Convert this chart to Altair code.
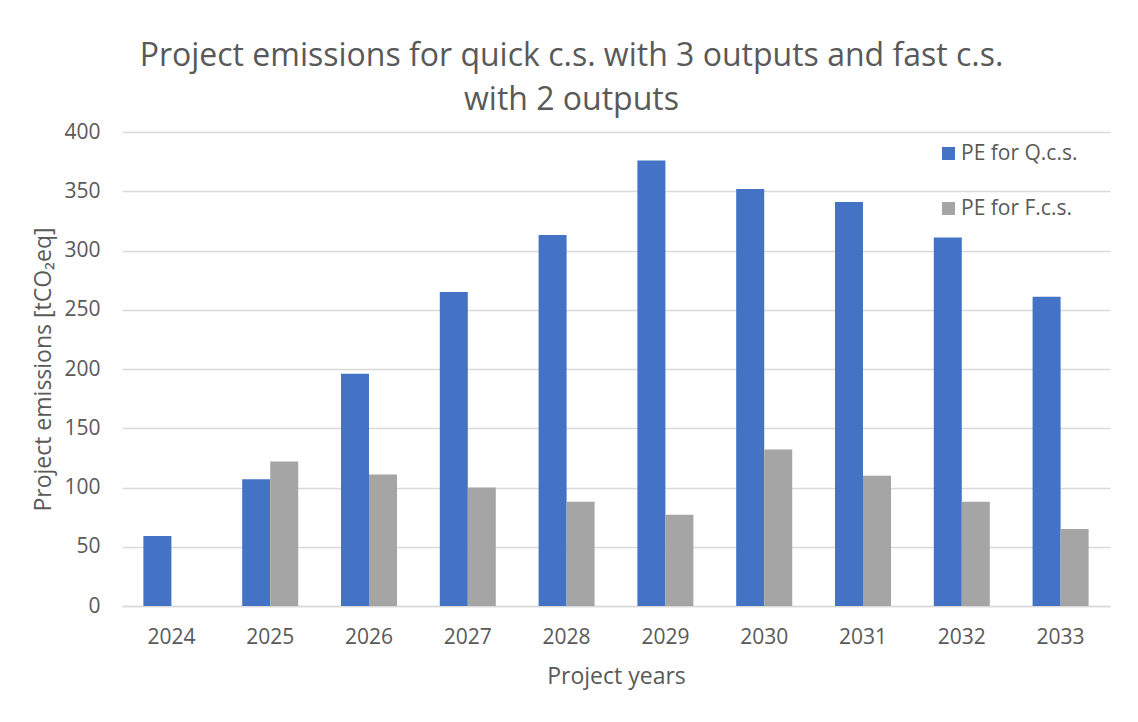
import altair as alt
import pandas as pd

years = ["2024", "2025", "2026", "2027", "2028", "2029", "2030", "2031", "2032", "2033"]
series = ["PE for Q.c.s.", "PE for F.c.s."]
q_values = [59, 107, 196, 265, 313, 376, 352, 341, 311, 261]
f_values = [None, 122, 111, 100, 88, 77, 132, 110, 88, 65]
colors = ["#4472C4", "#A5A5A5"]

rows = []
for y, q, f in zip(years, q_values, f_values):
    rows.append({"year": y, "series": series[0], "value": q})
    if f is not None:
        rows.append({"year": y, "series": series[1], "value": f})
df = pd.DataFrame(rows)

FONT = "Open Sans"
GREY = "#595959"

chart = alt.Chart(df).mark_bar().encode(
    x=alt.X("year:N", sort=years,
            scale=alt.Scale(paddingInner=0.433, paddingOuter=0.2165),
            axis=alt.Axis(title="Project years", labelAngle=0, ticks=False,
                          domainColor="#d9d9d9", domainWidth=1.5,
                          labelFontSize=21, labelColor=GREY, labelPadding=20,
                          titleFontSize=23, titleColor=GREY, titleFontWeight="normal",
                          titlePadding=18, labelFont=FONT, titleFont=FONT)),
    xOffset=alt.XOffset("series:N", sort=series, scale=alt.Scale(paddingInner=0, paddingOuter=0)),
    y=alt.Y("value:Q", scale=alt.Scale(domain=[0, 400], nice=False),
            axis=alt.Axis(title="Project emissions [tCO₂eq]", values=list(range(0, 401, 50)),
                          domain=False, ticks=False, gridColor="#d9d9d9", gridWidth=1.5,
                          labelFontSize=21, labelColor=GREY, labelPadding=22,
                          titleFontSize=23, titleColor=GREY, titleFontWeight="normal",
                          titlePadding=8, labelFont=FONT, titleFont=FONT)),
    color=alt.Color("series:N", sort=series,
                    scale=alt.Scale(domain=series, range=colors),
                    legend=alt.Legend(title=None, orient="none", legendX=816, legendY=11,
                                      symbolType="square", symbolSize=169, symbolStrokeWidth=0,
                                      labelFontSize=21, labelColor=GREY, labelFont=FONT,
                                      labelOffset=2, rowPadding=33, symbolOpacity=1)),
).properties(
    width=988,
    height=474,
    title=alt.TitleParams(
        text=["Project emissions for quick c.s. with 3 outputs and fast c.s.", "with 2 outputs"],
        fontSize=32, font=FONT, color=GREY, fontWeight="normal",
        anchor="middle", frame="bounds", lineHeight=44, offset=4),
    autosize=alt.AutoSizeParams(type="none"),
    padding={"left": 114, "top": 124, "right": 20, "bottom": 100},
).configure(
    background="white"
).configure_view(
    stroke=None
)

chart.save("out.html", embed_options={"renderer": "svg", "actions": False})
